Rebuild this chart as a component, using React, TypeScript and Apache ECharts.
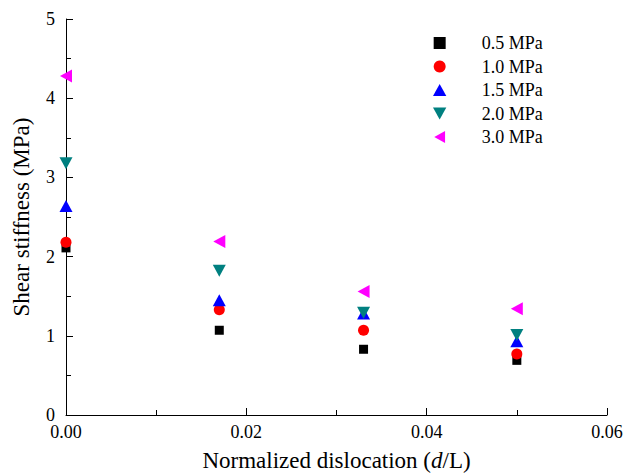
import React, { useEffect, useRef } from "react";
import * as echarts from "echarts";

const xValues = [0, 0.017, 0.033, 0.05];
const seriesNames = ["0.5 MPa", "1.0 MPa", "1.5 MPa", "2.0 MPa", "3.0 MPa"];
const s05 = [2.11, 1.07, 0.83, 0.69];
const s10 = [2.18, 1.33, 1.07, 0.77];
const s15 = [2.64, 1.45, 1.28, 0.93];
const s20 = [3.18, 1.82, 1.29, 1.01];
const s30 = [4.28, 2.19, 1.56, 1.34];
const xTicks = [0, 0.02, 0.04, 0.06];
const yTicks = [0, 1, 2, 3, 4, 5];

const FONT = "Times New Roman, Liberation Serif, serif";

export default function App() {
  const ref = useRef<HTMLDivElement>(null);
  useEffect(() => {
    const chart = echarts.init(ref.current!, null, { renderer: "svg" });
    const values = [s05, s10, s15, s20, s30];
    const colors = ["#000000", "#ff0000", "#0000ff", "#008080", "#ff00ff"];
    const symbols = [
      "path://M0,0 L10,0 L10,10 L0,10 Z",
      "circle",
      "path://M5,0 L10,9 L0,9 Z",
      "path://M0,0 L10,0 L5,9 Z",
      "path://M9,0 L9,10 L0,5 Z",
    ];
    const sizes: any[] = [9, 11, [13, 12], [13, 12], [12, 13]];
    chart.setOption({
      animation: false,
      backgroundColor: "#ffffff",
      textStyle: { fontFamily: FONT },
      grid: { left: 66, right: 23, top: 19, bottom: 58, outerBoundsMode: "none", containLabel: false },
      legend: {
        orient: "vertical",
        left: 428,
        top: 29,
        itemWidth: 14,
        itemHeight: 12,
        itemGap: 5.5,
        textStyle: { fontFamily: FONT, fontSize: 18, color: "#000", padding: [0, 0, 0, 30] },
        data: seriesNames,
      },
      xAxis: {
        type: "value",
        min: 0,
        max: 0.06,
        interval: 0.02,
        name: "Normalized dislocation ({i|d}/L)",
        nameLocation: "middle",
        nameGap: 33,
        nameTextStyle: {
          fontFamily: FONT,
          fontSize: 23,
          lineHeight: 24,
          color: "#000",
          rich: { i: { fontFamily: FONT, fontSize: 23, lineHeight: 24, fontStyle: "italic", color: "#000" } },
        },
        axisLine: { show: true, lineStyle: { color: "#000", width: 1 } },
        axisTick: { show: true, inside: true, length: 7, lineStyle: { color: "#000" } },
        minorTick: { show: true, splitNumber: 2, length: 5, lineStyle: { color: "#000" } },
        axisLabel: {
          fontFamily: FONT,
          fontSize: 18,
          color: "#000",
          margin: 8,
          formatter: (v: number) => (xTicks.some((t) => Math.abs(t - v) < 1e-9) ? v.toFixed(2) : ""),
        },
        splitLine: { show: false },
      },
      yAxis: {
        type: "value",
        min: 0,
        max: 5,
        interval: 1,
        name: "Shear stiffness (MPa)",
        nameLocation: "middle",
        nameGap: 33,
        nameTextStyle: { fontFamily: FONT, fontSize: 23, color: "#000" },
        axisLine: { show: true, lineStyle: { color: "#000", width: 1 } },
        axisTick: { show: true, inside: true, length: 7, lineStyle: { color: "#000" } },
        minorTick: { show: true, splitNumber: 2, length: 5, lineStyle: { color: "#000" } },
        axisLabel: {
          fontFamily: FONT,
          fontSize: 18,
          color: "#000",
          margin: 11,
          formatter: (v: number) => (yTicks.includes(v) ? String(v) : ""),
        },
        splitLine: { show: false },
      },
      series: seriesNames.map((name, i) => ({
        name,
        type: "scatter",
        symbol: symbols[i],
        symbolSize: sizes[i],
        itemStyle: { color: colors[i], opacity: 1 },
        data: xValues.map((x, j) => [x, values[i][j]]),
        z: 2 + i,
      })),
    });
    return () => chart.dispose();
  }, []);
  return (
    <div
      ref={ref}
      style={{ position: "absolute", left: 0, top: 0, width: 630, height: 473 }}
    />
  );
}
